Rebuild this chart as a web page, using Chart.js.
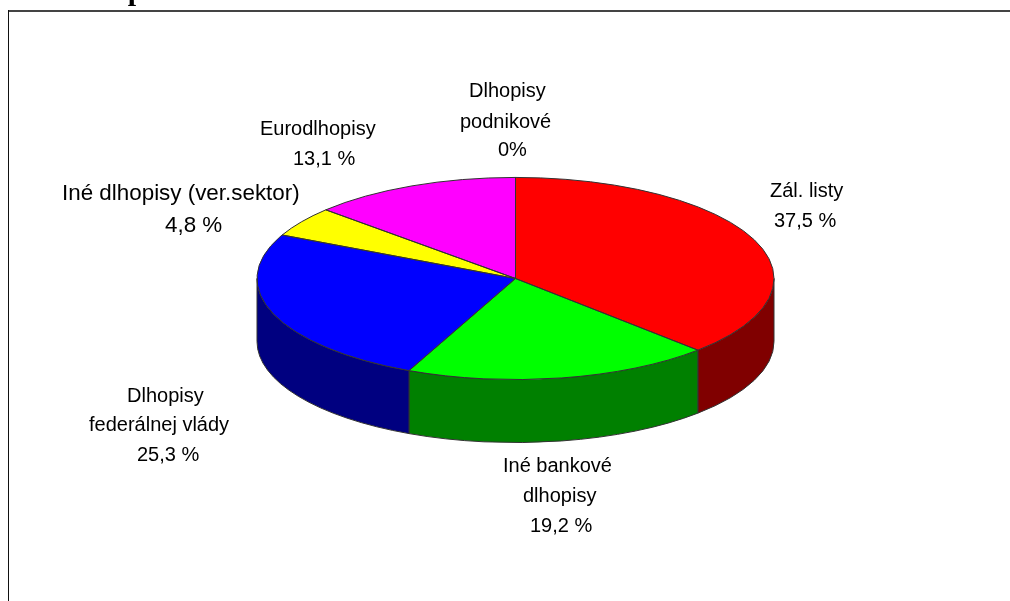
<!DOCTYPE html>
<html>
<head>
<meta charset="utf-8">
<title>dlhopisy</title>
<script src="https://cdn.jsdelivr.net/npm/chart.js@4/dist/chart.umd.min.js"></script>
<style>
  html, body { margin: 0; padding: 0; background: #fff; }
  canvas { display: block; }
</style>
</head>
<body>
<canvas id="pie3d" width="1010" height="601"></canvas>
<script>
const categories = ["Zál. listy", "Iné bankové dlhopisy", "Dlhopisy federálnej vlády", "Iné dlhopisy (ver.sektor)", "Eurodlhopisy", "Dlhopisy podnikové"];
const shares = [37.5, 19.2, 25.3, 4.8, 13.1, 0];
const topColors = ["#ff0000", "#00ff00", "#0000ff", "#ffff00", "#ff00ff", "#00ffff"];
const sideColors = ["#800000", "#008000", "#000080", "#808000", "#800080", "#008080"];

// text, left x, baseline y, font size
const labelLines = [
  ["Dlhopisy", 469, 97, 20],
  ["podnikové", 460, 128, 20],
  ["0%", 498, 156, 20],
  ["Zál. listy", 770, 197, 20],
  ["37,5 %", 774, 227, 20],
  ["Eurodlhopisy", 260, 135, 20],
  ["13,1 %", 293, 165, 20],
  ["Iné dlhopisy (ver.sektor)", 62, 200, 22.4],
  ["4,8 %", 165, 232, 22.4],
  ["Dlhopisy", 127, 402, 20],
  ["federálnej vlády", 89, 431, 20],
  ["25,3 %", 137, 461, 20],
  ["Iné bankové", 503, 472, 20],
  ["dlhopisy", 523, 502, 20],
  ["19,2 %", 530, 532, 20]
];

const centerY = 278.5;
const flatten = 0.391;
const depth = 63;
const edgeColor = "#333";

const pie3d = {
  id: "pie3d",
  beforeDraw(chart) {
    const ctx = chart.ctx;
    ctx.save();
    ctx.fillStyle = "#fff";
    ctx.fillRect(0, 0, chart.width, chart.height);
    // frame runs off the page on the right and bottom
    ctx.fillStyle = "#444";
    ctx.fillRect(8, 10, chart.width - 8, 2);
    ctx.fillStyle = "#111";
    ctx.fillRect(8, 10, 1, chart.height - 10);
    // heading is cut by the top of the page
    ctx.fillStyle = "#000";
    ctx.textBaseline = "alphabetic";
    ctx.font = "bold 30px 'Liberation Serif'";
    ctx.fillText("dlhopisov", 71, 0);
    ctx.restore();
  },
  beforeDatasetsDraw(chart) {
    const ctx = chart.ctx;
    const arcs = chart.getDatasetMeta(0).data;
    // side wall, only the part of each slice facing the viewer
    ctx.save();
    arcs.forEach((arc, i) => {
      const a0 = Math.max(arc.startAngle, 0);
      const a1 = Math.min(arc.endAngle, Math.PI);
      if (a1 <= a0) return;
      const ry = arc.outerRadius * flatten;
      ctx.beginPath();
      ctx.ellipse(arc.x, centerY, arc.outerRadius, ry, 0, a0, a1);
      ctx.ellipse(arc.x, centerY + depth, arc.outerRadius, ry, 0, a1, a0, true);
      ctx.closePath();
      ctx.fillStyle = sideColors[i];
      ctx.fill();
      ctx.strokeStyle = edgeColor;
      ctx.lineWidth = 1;
      ctx.stroke();
    });
    ctx.restore();
    // the library then paints the slices squashed into an ellipse
    const cx = arcs[0].x, cy = arcs[0].y;
    ctx.save();
    ctx.translate(cx, centerY);
    ctx.scale(1, flatten);
    ctx.translate(-cx, -cy);
  },
  afterDatasetsDraw(chart) {
    const ctx = chart.ctx;
    ctx.restore();
    ctx.save();
    ctx.strokeStyle = edgeColor;
    ctx.lineWidth = 1;
    chart.getDatasetMeta(0).data.forEach(arc => {
      ctx.beginPath();
      ctx.moveTo(arc.x, centerY);
      ctx.ellipse(arc.x, centerY, arc.outerRadius, arc.outerRadius * flatten, 0, arc.startAngle, arc.endAngle);
      ctx.closePath();
      ctx.stroke();
    });
    ctx.fillStyle = "#000";
    ctx.textBaseline = "alphabetic";
    labelLines.forEach(l => {
      ctx.font = l[3] + "px 'Liberation Sans'";
      ctx.fillText(l[0], l[1], l[2]);
    });
    ctx.restore();
  }
};

new Chart(document.getElementById("pie3d"), {
  type: "pie",
  data: {
    labels: categories,
    datasets: [{
      data: shares,
      backgroundColor: topColors,
      borderWidth: 0
    }]
  },
  options: {
    responsive: false,
    animation: false,
    devicePixelRatio: 1,
    layout: { padding: { left: 257, right: 236, top: 42, bottom: 42 } },
    plugins: {
      legend: { display: false },
      title: { display: false },
      tooltip: { enabled: false }
    }
  },
  plugins: [pie3d]
});
</script>
</body>
</html>
